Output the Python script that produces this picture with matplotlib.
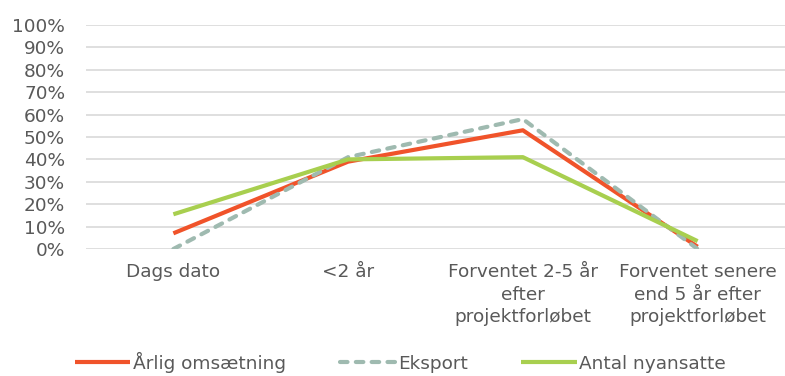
import matplotlib
matplotlib.use("Agg")
import matplotlib.pyplot as plt
from matplotlib.ticker import FuncFormatter

categories = ["Dags dato", "<2 år", "Forventet 2-5 år\nefter\nprojektforløbet",
              "Forventet senere\nend 5 år efter\nprojektforløbet"]
omsaetning = [7, 39, 53, 1]
eksport = [0, 41, 58, 0]
nyansatte = [15.5, 40, 41, 3.5]

plt.rcParams['font.family'] = ['DejaVu Sans']
txt = '#595959'
fs = 13.3
fig = plt.figure(figsize=(7.85, 3.76), dpi=100)
ax = fig.add_axes([86/785, 1-249/376, (785-86)/785, (249-25)/376])
x = list(range(len(categories)))
ax.plot(x, omsaetning, color='#F0532A', lw=3, label='Årlig omsætning', solid_capstyle='butt')
ax.plot(x, eksport, color='#9FBAB0', lw=3, ls=(0, (1.8, 2.0)), label='Eksport', dash_capstyle='round')
ax.plot(x, nyansatte, color='#A8CF4F', lw=3, label='Antal nyansatte', solid_capstyle='butt')
ax.set_xlim(-0.5, len(categories)-0.5)
ax.set_ylim(0, 100)
ax.set_yticks(range(0, 101, 10))
ax.yaxis.set_major_formatter(FuncFormatter(lambda v, p: f"{int(v)}%"))
ax.set_xticks(x)
ax.set_xticklabels(categories, linespacing=1.34)
ax.tick_params(axis='both', length=0, colors=txt, labelsize=fs)
ax.tick_params(axis='x', pad=10)
ax.tick_params(axis='y', pad=15)
ax.grid(axis='y', color='#D9D9D9', lw=1.2)
ax.set_axisbelow(True)
for s in ax.spines.values():
    s.set_visible(False)
leg = fig.legend(loc='center', bbox_to_anchor=(0.5 + 8/785, 1-362/376), ncol=3, frameon=False,
                 fontsize=fs, handlelength=3.0, handletextpad=0.15, columnspacing=2.9)
for t in leg.get_texts():
    t.set_color(txt)
fig.savefig('out.png', dpi=100)
